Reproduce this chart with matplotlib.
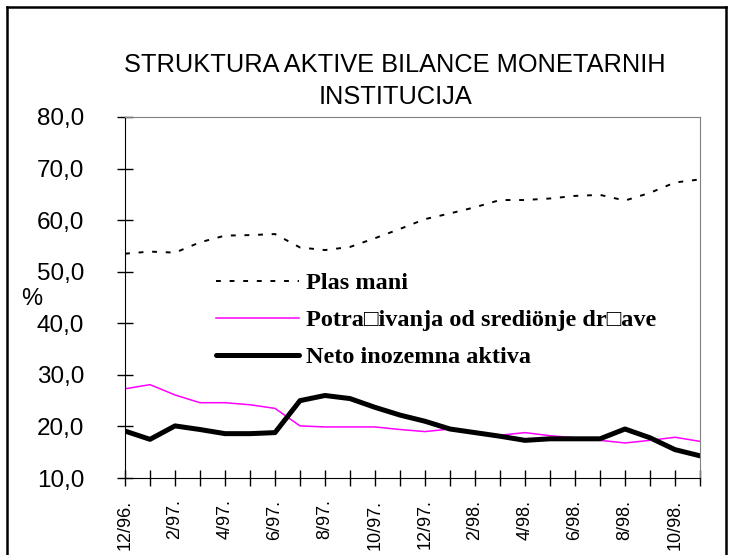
import matplotlib
matplotlib.use("Agg")
import matplotlib.pyplot as plt
from matplotlib.lines import Line2D

months = ["12/96.", "1/97.", "2/97.", "3/97.", "4/97.", "5/97.", "6/97.", "7/97.",
          "8/97.", "9/97.", "10/97.", "11/97.", "12/97.", "1/98.", "2/98.", "3/98.",
          "4/98.", "5/98.", "6/98.", "7/98.", "8/98.", "9/98.", "10/98.", "11/98."]

plasmani = [53.5, 53.9, 53.7, 55.7, 57.0, 57.1, 57.3, 54.7, 54.2, 54.8, 56.5, 58.3,
            60.2, 61.3, 62.5, 63.9, 63.9, 64.2, 64.7, 64.9, 63.8, 65.3, 67.3, 67.9]
potrazivanja = [27.3, 28.1, 26.1, 24.6, 24.6, 24.2, 23.5, 20.1, 19.9, 19.9, 19.9, 19.4,
                19.0, 19.5, 19.0, 18.3, 18.8, 18.2, 17.8, 17.3, 16.8, 17.3, 17.9, 17.1]
neto = [19.1, 17.5, 20.1, 19.4, 18.6, 18.6, 18.8, 25.0, 26.0, 25.4, 23.7, 22.2,
        21.0, 19.5, 18.8, 18.1, 17.3, 17.6, 17.6, 17.6, 19.5, 17.8, 15.5, 14.3]

yticks = [10, 20, 30, 40, 50, 60, 70, 80]

W, H = 730, 555
fig = plt.figure(figsize=(W / 100, H / 100), dpi=100)
ax = fig.add_axes([125 / W, 1 - 478 / H, (700 - 125) / W, (478 - 117) / H])

x = list(range(len(months)))
l1, = ax.plot(x, plasmani, color="black", lw=1.4, dashes=(2.5, 4.5))
l2, = ax.plot(x, potrazivanja, color="#ff00ff", lw=1.1)
l3, = ax.plot(x, neto, color="black", lw=3.6, solid_capstyle="round")

ax.set_xlim(0, len(months) - 1)
ax.set_ylim(10, 80)
ax.set_yticks(yticks)
ax.set_yticklabels([f"{v},0" for v in yticks], family="Liberation Sans", fontsize=17.5)
ax.set_xticks(x)
ax.set_xticklabels([m if i % 2 == 0 else "" for i, m in enumerate(months)],
                   rotation=90, family="Liberation Sans", fontsize=13)
ax.tick_params(axis="both", direction="inout", length=11, width=1)
ax.tick_params(axis="y", pad=24)
ax.tick_params(axis="x", pad=10)

for s in ["top", "right"]:
    ax.spines[s].set_color("#808080")
for s in ["left", "bottom"]:
    ax.spines[s].set_color("black")

fig.text(395 / W, 1 - 65 / H, "STRUKTURA AKTIVE BILANCE MONETARNIH", ha="center", va="center",
         family="Liberation Sans", fontsize=18.3)
fig.text(395 / W, 1 - 97 / H, "INSTITUCIJA", ha="center", va="center",
         family="Liberation Sans", fontsize=18.3)
fig.text(32 / W, 1 - 299 / H, "%", ha="center", va="center", family="Liberation Sans", fontsize=17)

ax.legend([l1, l2, l3],
          ["Plas mani", "Potra\u25a1ivanja od srediönje dr\u25a1ave", "Neto inozemna aktiva"],
          loc="upper left", bbox_to_anchor=(204 / W, 1 - 260 / H), bbox_transform=fig.transFigure,
          frameon=False, handlelength=3.4, handletextpad=0.3, labelspacing=0.62, borderpad=0,
          prop={"family": ["Liberation Serif", "DejaVu Serif"], "weight": "bold", "size": 17.5})

# outer frame
fig.add_artist(Line2D([7 / W, 7 / W], [0, 1 - 7 / H], transform=fig.transFigure, color="black", lw=1.8))
fig.add_artist(Line2D([7 / W, 726 / W], [1 - 7 / H, 1 - 7 / H], transform=fig.transFigure, color="black", lw=1.8))
fig.add_artist(Line2D([726 / W, 726 / W], [0, 1 - 7 / H], transform=fig.transFigure, color="black", lw=1.8))

fig.savefig("out.png", dpi=100)
